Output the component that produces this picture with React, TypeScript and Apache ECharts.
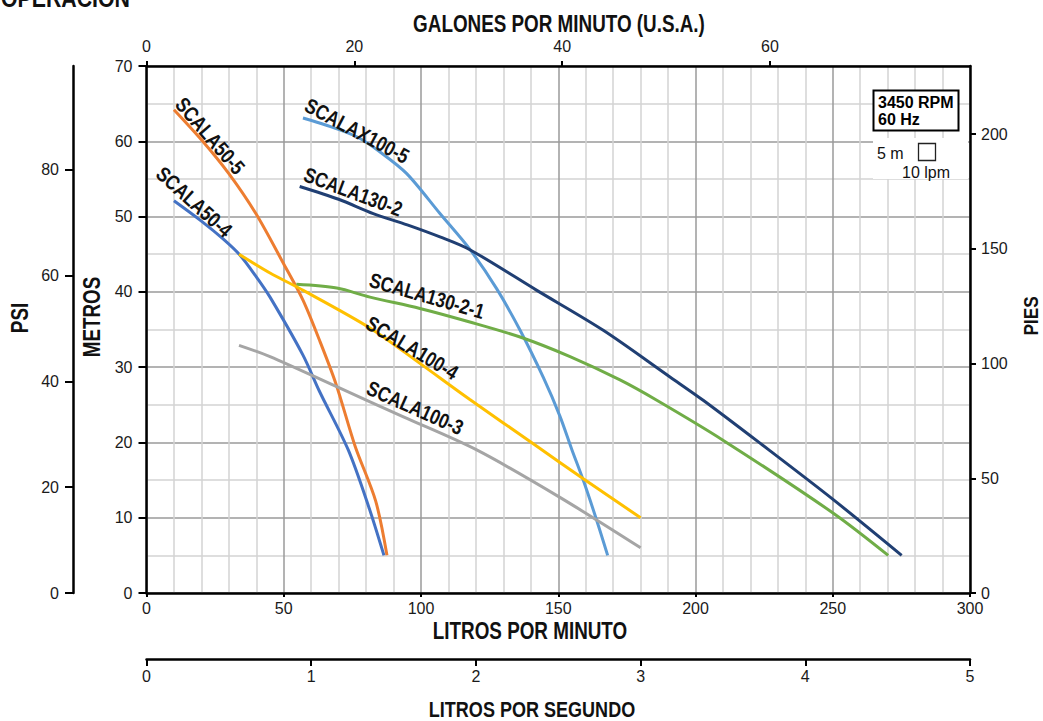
import React, { useEffect, useRef } from "react";
import * as echarts from "echarts";

// ---------- data (litros por minuto, metros) ----------
const modelNames = [
  "SCALA50-5",
  "SCALA50-4",
  "SCALAX100-5",
  "SCALA130-2",
  "SCALA130-2-1",
  "SCALA100-4",
  "SCALA100-3",
];
const modelColors = ["#ED7D31", "#4472C4", "#5B9BD5", "#203F73", "#70AD47", "#FFC000", "#A5A5A5"];

const scala50_5 = [[10, 64.2], [20, 60.2], [30, 55.7], [40, 50.3], [50, 43.7], [57, 38.9], [63, 33.6], [69, 27.8], [76, 19.5], [83.5, 12.2], [87.6, 5]];
const scala50_4 = [[10, 52.1], [20, 49.4], [28, 47.0], [34, 44.9], [40, 42.0], [45, 39.3], [57, 31.6], [63, 26.8], [73.5, 19.0], [81, 11.4], [86.5, 5]];
const scalax100_5 = [[57, 63.1], [65, 62.2], [76.6, 60.6], [85, 58.6], [94.8, 55.7], [106.9, 50.4], [117.9, 45.6], [127.6, 40.4], [136.1, 34.9], [144.6, 28.6], [150.6, 23.5], [155, 19.0], [159, 15.1], [163.7, 10], [168, 5]];
const scala130_2 = [[55.8, 54.0], [70, 52.3], [82.6, 50.4], [95, 48.9], [106.9, 47.3], [117.8, 45.6], [142.2, 40.2], [166.4, 34.9], [190.7, 28.7], [202.8, 25.6], [223.5, 19.9], [250.2, 12.4], [275.1, 5]];
const scala130_2_1 = [[54.6, 41.0], [69.3, 40.5], [81.4, 39.3], [99.6, 37.8], [117.8, 36.0], [136.1, 34.0], [154.3, 31.4], [172.5, 28.3], [185.9, 25.6], [210, 20.3], [250.2, 10.6], [270.2, 5]];
const scala100_4 = [[33.7, 45.0], [45, 42.5], [57.1, 40.2], [81.4, 35.2], [99.6, 30.5], [117.8, 25.7], [142.2, 19.5], [159, 15.2], [180, 10]];
const scala100_3 = [[33.7, 32.9], [45, 31.4], [69.3, 27.4], [93.6, 23.4], [120.3, 19.0], [150.6, 12.7], [180, 6.0]];
const modelData = [scala50_5, scala50_4, scalax100_5, scala130_2, scala130_2_1, scala100_4, scala100_3];

// ---------- tick labels ----------
const lpmTicks = [0, 50, 100, 150, 200, 250, 300];
const metrosTicks = [0, 10, 20, 30, 40, 50, 60, 70];
const psiTicks = [0, 20, 40, 60, 80];
const piesTicks = [0, 50, 100, 150, 200];
const gpmTicks = [0, 20, 40, 60];
const lpsTicks = [0, 1, 2, 3, 4, 5];

// conversion factors
const LPM_PER_GPM = 3.78541;
const FT_PER_M = 3.28084;
const PSI_PER_M = 1.42233;
const LPM_MAX = 300;
const M_MAX = 70;

// ---------- layout of curve labels (pixel center, clockwise angle deg) ----------
const curveLabelLayout = [
  { x: 210, y: 136, a: 49 },
  { x: 194, y: 202, a: 42 },
  { x: 357, y: 131, a: 28 },
  { x: 353, y: 192, a: 20.5 },
  { x: 427, y: 296, a: 16 },
  { x: 412, y: 348, a: 31 },
  { x: 415, y: 408, a: 24 },
];

const ARIAL = "'Liberation Sans',Arial,Helvetica,sans-serif";
const NARROW_SCALE = 0.82;

const PLOT_L = 146.5;
const PLOT_T = 66;
const PLOT_W = 823.5;
const PLOT_H = 527;

const axisLabelBase = { fontSize: 16, fontFamily: ARIAL, color: "#1a1a1a" };
const blackLine = { color: "#000", width: 2.5 };
const blackTick = { color: "#000", width: 2 };

function boldText(text: string, x: number, y: number, size: number, rotation = 0, align = "center") {
  return {
    type: "text",
    x,
    y,
    rotation,
    scaleX: NARROW_SCALE,
    z: 50,
    style: {
      text,
      x: 0,
      y: 0,
      align,
      verticalAlign: "middle",
      font: `bold ${size}px ${ARIAL}`,
      fill: "#111",
    },
  };
}

export default function App() {
  const ref = useRef<HTMLDivElement>(null);

  useEffect(() => {
    const chart = echarts.init(ref.current as HTMLDivElement, null, { renderer: "svg" });

    const series = modelNames.map((name, i) => ({
      name,
      type: "line",
      xAxisIndex: 0,
      yAxisIndex: 0,
      data: modelData[i],
      showSymbol: false,
      symbol: "none",
      smooth: 0.3,
      lineStyle: { color: modelColors[i], width: 3 },
      itemStyle: { color: modelColors[i] },
      z: 5,
    }));

    const curveLabels = modelNames.map((name, i) =>
      boldText(name, curveLabelLayout[i].x, curveLabelLayout[i].y, 21, (-curveLabelLayout[i].a * Math.PI) / 180)
    );

    const option: any = {
      animation: false,
      backgroundColor: "#fff",
      grid: [
        { left: PLOT_L, top: PLOT_T, width: PLOT_W, height: PLOT_H },
        { left: 73, top: PLOT_T, width: 1, height: PLOT_H },
        { left: PLOT_L, top: 658, width: PLOT_W, height: 1 },
      ],
      xAxis: [
        {
          gridIndex: 0,
          type: "value",
          position: "bottom",
          min: 0,
          max: LPM_MAX,
          interval: 50,
          axisLine: { show: true, onZero: false, lineStyle: blackLine },
          axisTick: { show: true, length: 4, lineStyle: blackTick, customValues: lpmTicks },
          axisLabel: { ...axisLabelBase, margin: 7, customValues: lpmTicks },
          splitLine: { show: true, lineStyle: { color: "#9a9a9a", width: 1.5 } },
          minorTick: { show: false, splitNumber: 5 },
          minorSplitLine: { show: true, lineStyle: { color: "#d3d3d3", width: 1.5 } },
        },
        {
          gridIndex: 0,
          type: "value",
          position: "top",
          min: 0,
          max: LPM_MAX / LPM_PER_GPM,
          interval: 20,
          axisLine: { show: true, onZero: false, lineStyle: blackLine },
          axisTick: { show: true, length: 5, lineStyle: blackTick, customValues: gpmTicks },
          axisLabel: { ...axisLabelBase, margin: 12, customValues: gpmTicks },
          splitLine: { show: false },
        },
        { gridIndex: 1, type: "value", min: 0, max: 1, show: false },
        {
          gridIndex: 2,
          type: "value",
          position: "bottom",
          min: 0,
          max: 5,
          interval: 1,
          axisLine: { show: true, onZero: false, lineStyle: blackLine },
          axisTick: { show: true, length: 7, lineStyle: blackTick, customValues: lpsTicks },
          axisLabel: { ...axisLabelBase, margin: 9, customValues: lpsTicks },
          splitLine: { show: false },
        },
      ],
      yAxis: [
        {
          gridIndex: 0,
          type: "value",
          position: "left",
          min: 0,
          max: M_MAX,
          interval: 10,
          axisLine: { show: true, onZero: false, lineStyle: blackLine },
          axisTick: { show: true, length: 8, lineStyle: blackTick, customValues: metrosTicks },
          axisLabel: { ...axisLabelBase, margin: 14, customValues: metrosTicks },
          splitLine: { show: true, lineStyle: { color: "#9a9a9a", width: 1.5 } },
          minorTick: { show: false, splitNumber: 2 },
          minorSplitLine: { show: true, lineStyle: { color: "#d3d3d3", width: 1.5 } },
        },
        {
          gridIndex: 0,
          type: "value",
          position: "right",
          min: 0,
          max: M_MAX * FT_PER_M,
          interval: 50,
          axisLine: { show: true, onZero: false, lineStyle: blackLine },
          axisTick: { show: true, length: 6, lineStyle: blackTick, customValues: piesTicks },
          axisLabel: { ...axisLabelBase, margin: 11, customValues: piesTicks },
          splitLine: { show: false },
        },
        {
          gridIndex: 1,
          type: "value",
          position: "left",
          min: 0,
          max: M_MAX * PSI_PER_M,
          interval: 20,
          axisLine: { show: true, onZero: false, lineStyle: blackLine },
          axisTick: { show: true, length: 8, lineStyle: blackTick, customValues: psiTicks },
          axisLabel: { ...axisLabelBase, margin: 14, customValues: psiTicks },
          splitLine: { show: false },
        },
        { gridIndex: 2, type: "value", min: 0, max: 1, show: false },
      ],
      series,
      graphic: [
        ...curveLabels,
        boldText("OPERACION", 130, -2, 26, 0, "right"),
        boldText("GALONES POR MINUTO (U.S.A.)", 559, 24, 23),
        boldText("LITROS POR MINUTO", 530, 631, 23),
        boldText("LITROS POR SEGUNDO", 532, 709, 22),
        boldText("METROS", 92, 317, 23, Math.PI / 2),
        boldText("PSI", 20, 318, 23, Math.PI / 2),
        boldText("PIES", 1031, 316, 21, Math.PI / 2),
        // legend / info box
        {
          type: "rect",
          z: 60,
          shape: { x: 873, y: 138, width: 95, height: 41 },
          style: { fill: "#fff", stroke: null },
        },
        {
          type: "rect",
          z: 61,
          shape: { x: 873.5, y: 90.5, width: 85, height: 40 },
          style: { fill: "#fff", stroke: "#000", lineWidth: 2 },
        },
        {
          type: "text",
          x: 878,
          y: 102,
          z: 62,
          style: { text: "3450 RPM", align: "left", verticalAlign: "middle", font: `bold 16px ${ARIAL}`, fill: "#000" },
        },
        {
          type: "text",
          x: 878,
          y: 119.5,
          z: 62,
          style: { text: "60 Hz", align: "left", verticalAlign: "middle", font: `bold 16px ${ARIAL}`, fill: "#000" },
        },
        {
          type: "text",
          x: 877,
          y: 153,
          z: 62,
          style: { text: "5 m", align: "left", verticalAlign: "middle", font: `16px ${ARIAL}`, fill: "#111" },
        },
        {
          type: "rect",
          z: 62,
          shape: { x: 918.5, y: 143.5, width: 17, height: 17 },
          style: { fill: "#fff", stroke: "#222", lineWidth: 1.3 },
        },
        {
          type: "text",
          x: 926,
          y: 172,
          z: 62,
          style: { text: "10 lpm", align: "center", verticalAlign: "middle", font: `16px ${ARIAL}`, fill: "#111" },
        },
      ],
    };

    chart.setOption(option);
    return () => chart.dispose();
  }, []);

  return (
    <div
      ref={ref}
      style={{ position: "absolute", left: 0, top: 0, width: 1043, height: 721, background: "#fff" }}
    />
  );
}
